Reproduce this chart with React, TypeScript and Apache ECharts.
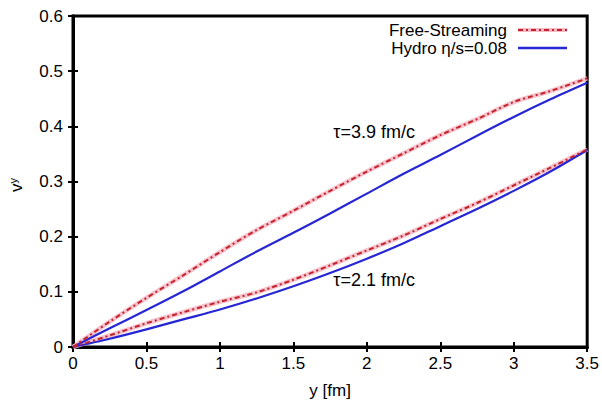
import React, { useEffect, useRef } from "react";
import * as echarts from "echarts";

const xs = [0, 0.25, 0.5, 0.75, 1, 1.25, 1.5, 1.75, 2, 2.25, 2.5, 2.75, 3, 3.25, 3.5];
const fs39 = [0, 0.046, 0.089, 0.13, 0.172, 0.212, 0.247, 0.283, 0.318, 0.351, 0.384, 0.413, 0.444, 0.464, 0.487];
const hy39 = [0, 0.034, 0.067, 0.101, 0.137, 0.173, 0.207, 0.242, 0.278, 0.314, 0.348, 0.383, 0.417, 0.449, 0.479];
const fs21 = [0, 0.021, 0.043, 0.063, 0.082, 0.099, 0.122, 0.148, 0.175, 0.202, 0.232, 0.261, 0.293, 0.325, 0.358];
const hy21 = [0, 0.015, 0.032, 0.05, 0.068, 0.088, 0.11, 0.134, 0.16, 0.188, 0.219, 0.25, 0.283, 0.318, 0.357];
const legendNames = ["Free-Streaming", "Hydro η/s=0.08"];
const annotations = [
  { text: "τ=3.9 fm/c", x: 2.05, y: 0.39 },
  { text: "τ=2.1 fm/c", x: 2.05, y: 0.122 },
];

const FONT = "'Liberation Sans', Arial, sans-serif";
const RED = "#c4222c";
const BLUE = "#2626d4";

export default function App() {
  const ref = useRef<HTMLDivElement>(null);
  useEffect(() => {
    if (!ref.current) return;
    const chart = echarts.init(ref.current, undefined, { renderer: "svg" });
    const pair = (arr: number[]) => xs.map((x, i) => [x, arr[i]]);
    const redStyle = { color: RED, width: 2, type: [5, 3, 2, 3] as any };
    const blueStyle = { color: BLUE, width: 2.2 };
    const halo = (arr: number[]) => ({
      type: "line",
      name: "halo",
      data: pair(arr),
      showSymbol: false,
      symbol: "none",
      smooth: 0.3,
      silent: true,
      lineStyle: { color: "#f5b8c4", width: 4.5, opacity: 0.85 },
      z: 1,
    });
    const axisCommon = {
      axisLine: { show: true, lineStyle: { color: "#000", width: 3 } },
      axisTick: { inside: true, length: 5, lineStyle: { color: "#000", width: 2 } },
      splitLine: { show: false },
    };
    chart.setOption({
      animation: false,
      backgroundColor: "#ffffff",
      textStyle: { fontFamily: FONT },
      grid: { left: 73, right: 13, top: 16, bottom: 54, show: true, borderColor: "#000", borderWidth: 3 },
      graphic: [
        {
          type: "text",
          x: 16,
          y: 185,
          rotation: Math.PI / 2,
          style: {
            text: "v{s|y}",
            fontSize: 17,
            fontFamily: FONT,
            fill: "#000",
            align: "center",
            verticalAlign: "middle",
            rich: { s: { fontSize: 11, fontFamily: FONT, fill: "#000", verticalAlign: "top", padding: [0, 0, 7, 0] } },
          },
        },
        {
          type: "text",
          x: 507,
          y: 30,
          style: { text: legendNames[0], fontSize: 17, fontFamily: FONT, fill: "#000", align: "right", verticalAlign: "middle" },
        },
        {
          type: "text",
          x: 507,
          y: 48,
          style: { text: legendNames[1], fontSize: 17, fontFamily: FONT, fill: "#000", align: "right", verticalAlign: "middle" },
        },
        {
          type: "line",
          shape: { x1: 518, y1: 30, x2: 567, y2: 30 },
          style: { stroke: "#f5b8c4", lineWidth: 4 },
        },
        {
          type: "line",
          shape: { x1: 518, y1: 30, x2: 567, y2: 30 },
          style: { stroke: RED, lineWidth: 2, lineDash: [5, 3, 2, 3] },
        },
        {
          type: "line",
          shape: { x1: 518, y1: 48, x2: 567, y2: 48 },
          style: { stroke: BLUE, lineWidth: 2.5 },
        },
      ],
      xAxis: [
        {
          type: "value",
          min: 0,
          max: 3.5,
          interval: 0.5,
          name: "y [fm]",
          nameLocation: "middle",
          nameGap: 35,
          nameTextStyle: { fontSize: 17, color: "#000", fontFamily: FONT },
          axisLabel: { fontSize: 17, color: "#000", margin: 8, fontFamily: FONT, formatter: (v: number) => String(v) },
          ...axisCommon,
        },
        {
          type: "value",
          position: "top",
          min: 0,
          max: 3.5,
          interval: 0.5,
          axisLabel: { show: false },
          ...axisCommon,
        },
      ],
      yAxis: [
        {
          type: "value",
          min: 0,
          max: 0.6,
          interval: 0.1,
          axisLabel: {
            fontSize: 17,
            color: "#000",
            margin: 10,
            fontFamily: FONT,
            formatter: (v: number) => String(Math.round(v * 10) / 10),
          },
          ...axisCommon,
        },
        {
          type: "value",
          position: "right",
          min: 0,
          max: 0.6,
          interval: 0.1,
          axisLabel: { show: false },
          ...axisCommon,
        },
      ],
      series: [
        halo(fs39),
        halo(fs21),
        {
          type: "line",
          name: legendNames[0],
          data: pair(fs39),
          showSymbol: false,
          symbol: "none",
          smooth: 0.3,
          lineStyle: redStyle,
          z: 3,
          markPoint: {
            symbol: "circle",
            symbolSize: 0,
            label: { show: true, color: "#000", fontSize: 18, fontFamily: FONT, formatter: (p: any) => p.name },
            data: annotations.map((a) => ({ name: a.text, coord: [a.x, a.y] })),
          },
        },
        {
          type: "line",
          name: legendNames[0],
          data: pair(fs21),
          showSymbol: false,
          symbol: "none",
          smooth: 0.3,
          lineStyle: redStyle,
          z: 3,
        },
        {
          type: "line",
          name: legendNames[1],
          data: pair(hy39),
          showSymbol: false,
          symbol: "none",
          smooth: 0.3,
          lineStyle: blueStyle,
          z: 2,
        },
        {
          type: "line",
          name: legendNames[1],
          data: pair(hy21),
          showSymbol: false,
          symbol: "none",
          smooth: 0.3,
          lineStyle: blueStyle,
          z: 2,
        },
      ],
    });
    return () => chart.dispose();
  }, []);
  return <div ref={ref} style={{ width: 602, height: 404, position: "absolute", left: 0, top: 0 }} />;
}
